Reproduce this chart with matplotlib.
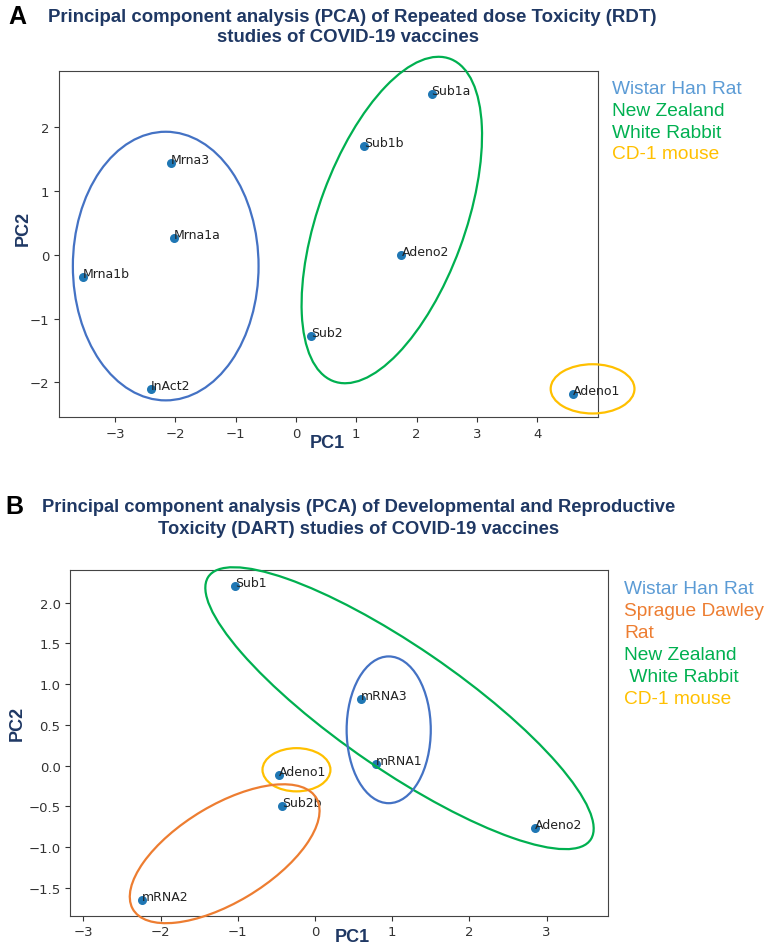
import matplotlib
matplotlib.use("Agg")
import matplotlib.pyplot as plt
from matplotlib.patches import Ellipse

W, H = 764, 945

# ---- panel A data (Repeated dose toxicity)
a_names = ["Mrna3", "Mrna1a", "Mrna1b", "InAct2", "Sub2", "Sub1b", "Sub1a", "Adeno2", "Adeno1"]
a_pc1 = [-2.08, -2.03, -3.53, -2.40, 0.25, 1.13, 2.25, 1.75, 4.60]
a_pc2 = [1.43, 0.26, -0.35, -2.10, -1.28, 1.69, 2.51, 0.00, -2.18]
# groups: (cx, cy, width, height, angle, colour)
a_groups = [(-2.16, -0.18, 3.08, 4.20, 0, "#4472C4"),
            (1.59, 0.54, 5.40, 2.42, 68.6, "#00B050"),
            (4.92, -2.10, 1.39, 0.77, 0, "#FFC000")]
a_legend = ["Wistar Han Rat", "New Zealand", "White Rabbit", "CD-1 mouse"]
a_legend_col = ["#5B9BD5", "#00B050", "#00B050", "#FFC000"]

# ---- panel B data (DART)
b_names = ["Sub1", "mRNA3", "mRNA1", "Adeno1", "Sub2b", "mRNA2", "Adeno2"]
b_pc1 = [-1.03, 0.59, 0.79, -0.47, -0.43, -2.24, 2.85]
b_pc2 = [2.20, 0.82, 0.02, -0.12, -0.49, -1.65, -0.76]
b_groups = [(1.095, 0.705, 5.91, 1.53, -32.9, "#00B050"),
            (0.955, 0.44, 1.09, 1.80, 0, "#4472C4"),
            (-0.24, -0.05, 0.88, 0.53, 0, "#FFC000"),
            (-1.17, -1.08, 2.74, 1.20, 29.4, "#ED7D31")]
b_legend = ["Wistar Han Rat", "Sprague Dawley", "Rat", "New Zealand", " White Rabbit", "CD-1 mouse"]
b_legend_col = ["#5B9BD5", "#ED7D31", "#ED7D31", "#00B050", "#00B050", "#FFC000"]

navy = "#1F3864"
arial = "Liberation Sans"


def fx(px):
    return px / W


def fy(py):
    return 1 - py / H


def panel(box, names, xs, ys, groups, xlim, ylim):
    l, t, r, b = box
    ax = fig.add_axes([fx(l), fy(b), (r - l) / W, (b - t) / H])
    ax.scatter(xs, ys, s=30, color="#1f77b4", zorder=3)
    for n, x, y in zip(names, xs, ys):
        ax.annotate(n, (x, y), fontsize=9, color="#222222")
    for cx, cy, w, h, ang, c in groups:
        e = Ellipse((cx, cy), w, h, angle=ang, fill=False, edgecolor=c,
                    linewidth=1.6, clip_on=False, zorder=4)
        ax.add_artist(e)
    ax.set_xlim(*xlim)
    ax.set_ylim(*ylim)
    for sp in ax.spines.values():
        sp.set_color("#444444")
    ax.tick_params(labelsize=9.5, colors="#333333")
    return ax


fig = plt.figure(figsize=(W / 100, H / 100), dpi=100)

# ---- A
ax1 = panel((59, 72, 598, 418), a_names, a_pc1, a_pc2, a_groups,
            (-3.93, 5.01), (-2.54, 2.87))
ax1.set_xticks([-3, -2, -1, 0, 1, 2, 3, 4])
fig.text(fx(17), fy(17), "A", fontsize=18, fontweight="bold", family=arial,
         ha="center", va="center")
fig.text(fx(352), fy(17), "Principal component analysis (PCA) of Repeated dose Toxicity (RDT)",
         fontsize=13.4, fontweight="bold", family=arial, color=navy, ha="center", va="center")
fig.text(fx(348), fy(37), "studies of COVID-19 vaccines",
         fontsize=13.4, fontweight="bold", family=arial, color=navy, ha="center", va="center")
fig.text(fx(327), fy(444), "PC1", fontsize=13, fontweight="bold", family=arial,
         color=navy, ha="center", va="center")
fig.text(fx(23), fy(228), "PC2", fontsize=13, fontweight="bold", family=arial,
         color=navy, ha="center", va="center", rotation=90)
for i, (txt, c) in enumerate(zip(a_legend, a_legend_col)):
    fig.text(fx(612), fy(89 + 22 * i), txt, fontsize=13.8, family=arial, color=c,
             ha="left", va="center")

# ---- B
ax2 = panel((70.3, 571, 608.3, 916.7), b_names, b_pc1, b_pc2, b_groups,
            (-3.17, 3.80), (-1.84, 2.40))
ax2.set_xticks([-3, -2, -1, 0, 1, 2, 3])
ax2.set_yticks([-1.5, -1.0, -0.5, 0.0, 0.5, 1.0, 1.5, 2.0])
fig.text(fx(14), fy(507), "B", fontsize=18, fontweight="bold", family=arial,
         ha="center", va="center")
fig.text(fx(359), fy(508), "Principal component analysis (PCA) of Developmental and Reproductive",
         fontsize=13.2, fontweight="bold", family=arial, color=navy, ha="center", va="center")
fig.text(fx(359), fy(529), "Toxicity (DART) studies of COVID-19 vaccines",
         fontsize=13.2, fontweight="bold", family=arial, color=navy, ha="center", va="center")
fig.text(fx(352), fy(938), "PC1", fontsize=13, fontweight="bold", family=arial,
         color=navy, ha="center", va="center")
fig.text(fx(17), fy(723), "PC2", fontsize=13, fontweight="bold", family=arial,
         color=navy, ha="center", va="center", rotation=90)
for i, (txt, c) in enumerate(zip(b_legend, b_legend_col)):
    fig.text(fx(624), fy(590 + 21.9 * i), txt, fontsize=13.8, family=arial, color=c,
             ha="left", va="center")

fig.savefig("out.png", dpi=100)
